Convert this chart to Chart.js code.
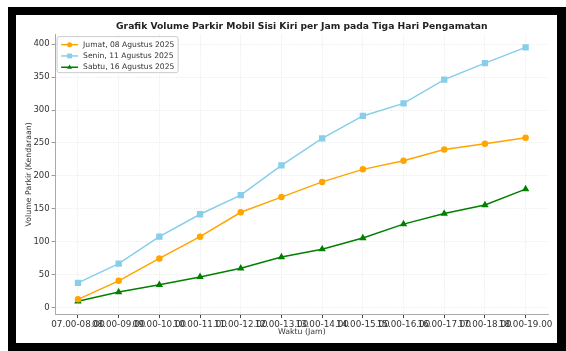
<!DOCTYPE html>
<html>
<head>
<meta charset="utf-8">
<script src="https://cdn.jsdelivr.net/npm/chart.js@4.4.1/dist/chart.umd.min.js"></script>
<style>
  html, body { margin: 0; padding: 0; background: #ffffff; }
  #frame {
    position: absolute; left: 8px; top: 7px; width: 558px; height: 344px;
    box-sizing: border-box; border-style: solid; border-color: #000;
    border-width: 8px 9px 8px 8px; background: #ffffff;
  }
  #chart { position: absolute; left: 0; top: 0; }
</style>
</head>
<body>
<div id="frame"></div>
<canvas id="chart" width="566" height="351"></canvas>
<script>
// Hourly parking volume, left side of the road, three observation days
const timeSlots = ['07.00-08.00', '08.00-09.00', '09.00-10.00', '10.00-11.00', '11.00-12.00', '12.00-13.00',
                   '13.00-14.00', '14.00-15.00', '15.00-16.00', '16.00-17.00', '17.00-18.00', '18.00-19.00'];
const jumat = [13, 41, 75, 108, 145, 168, 191, 210, 223, 240, 249, 258];
const senin = [38, 67, 108, 142, 171, 216, 257, 291, 310, 346, 371, 395];
const sabtu = [10, 24, 35, 47, 60, 77, 89, 106, 127, 143, 156, 180];
const seriesLabels = ['Jumat, 08 Agustus 2025', 'Senin, 11 Agustus 2025', 'Sabtu, 16 Agustus 2025'];
const yTicks = [0, 50, 100, 150, 200, 250, 300, 350, 400];

const FONT = "'DejaVu Sans', sans-serif";
const toPoints = arr => arr.map((v, i) => ({ x: i, y: v }));

// legend box drawn inside the plot, upper-left corner
const innerLegend = {
  id: 'innerLegend',
  afterDatasetsDraw(chart) {
    const ctx = chart.ctx;
    const area = chart.chartArea;
    const x0 = area.left + 1.5, y0 = area.top + 2, w = 121, h = 36;
    ctx.save();
    ctx.beginPath();
    ctx.roundRect(x0, y0, w, h, 2);
    ctx.fillStyle = 'rgba(255,255,255,0.85)';
    ctx.fill();
    ctx.strokeStyle = '#cccccc';
    ctx.lineWidth = 1;
    ctx.stroke();
    chart.data.datasets.forEach((ds, i) => {
      const cy = y0 + 8 + i * 11.3;
      const lx1 = x0 + 4, lx2 = x0 + 21, mx = (lx1 + lx2) / 2;
      ctx.strokeStyle = ds.borderColor;
      ctx.lineWidth = ds.borderWidth;
      ctx.beginPath(); ctx.moveTo(lx1, cy); ctx.lineTo(lx2, cy); ctx.stroke();
      ctx.fillStyle = ds.backgroundColor;
      const r = ds.pointRadius;
      ctx.beginPath();
      if (ds.pointStyle === 'circle') {
        ctx.arc(mx, cy, r, 0, Math.PI * 2);
      } else if (ds.pointStyle === 'rect') {
        const s = r * Math.SQRT1_2;
        ctx.rect(mx - s, cy - s, 2 * s, 2 * s);
      } else {
        const a = r * 0.866;
        ctx.moveTo(mx, cy - r);
        ctx.lineTo(mx + a, cy + r / 2);
        ctx.lineTo(mx - a, cy + r / 2);
        ctx.closePath();
      }
      ctx.fill();
      ctx.fillStyle = '#333333';
      ctx.font = '7.6px ' + FONT;
      ctx.textBaseline = 'middle';
      ctx.textAlign = 'left';
      ctx.fillText(ds.label, x0 + 26, cy);
    });
    ctx.restore();
  }
};

new Chart(document.getElementById('chart'), {
  type: 'line',
  data: {
    datasets: [
      { label: seriesLabels[0], data: toPoints(jumat), borderColor: '#FFA500', backgroundColor: '#FFA500',
        borderWidth: 1.5, pointStyle: 'circle', pointRadius: 2.5 },
      { label: seriesLabels[1], data: toPoints(senin), borderColor: '#87CEEB', backgroundColor: '#87CEEB',
        borderWidth: 1.5, pointStyle: 'rect', pointRadius: 3.4 },
      { label: seriesLabels[2], data: toPoints(sabtu), borderColor: '#008000', backgroundColor: '#008000',
        borderWidth: 1.5, pointStyle: 'triangle', pointRadius: 2.8 }
    ]
  },
  options: {
    responsive: false,
    animation: false,
    events: [],
    layout: { padding: { left: 0, right: 18, top: 0, bottom: 0 } },
    elements: { line: { tension: 0 }, point: { borderWidth: 0 } },
    plugins: {
      legend: { display: false },
      tooltip: { enabled: false },
      title: {
        display: true,
        fullSize: false,
        text: 'Grafik Volume Parkir Mobil Sisi Kiri per Jam pada Tiga Hari Pengamatan',
        color: '#222222',
        font: { family: FONT, size: 9.2, weight: 'bold' },
        padding: { top: 21.5, bottom: 2.1 }
      }
    },
    scales: {
      x: {
        type: 'linear',
        min: -0.55, max: 11.55,
        afterBuildTicks: s => { s.ticks = timeSlots.map((_, i) => ({ value: i })); },
        afterFit: s => { s.height = 37; },
        ticks: {
          autoSkip: false, maxRotation: 0, minRotation: 0,
          color: '#333333', font: { family: FONT, size: 8.8 }, padding: 1,
          callback: v => timeSlots[v]
        },
        grid: { color: '#e2e2e2', lineWidth: 0.8, tickLength: 4, tickColor: '#444444', tickWidth: 1 },
        border: { color: '#aaaaaa', width: 1, dash: [1, 1.5] },
        title: { display: true, text: 'Waktu (Jam)', color: '#333333',
                 font: { family: FONT, size: 7.8 }, padding: { top: 0, bottom: 14.8 } }
      },
      y: {
        min: -9.25, max: 414.25,
        afterBuildTicks: s => { s.ticks = yTicks.map(v => ({ value: v })); },
        afterFit: s => { s.width = 55.6; },
        ticks: { color: '#333333', font: { family: FONT, size: 8.5 }, padding: 2 },
        grid: { color: '#e2e2e2', lineWidth: 0.8, tickLength: 4, tickColor: '#999999', tickWidth: 1 },
        border: { color: '#aaaaaa', width: 1, dash: [1, 1.5] },
        title: { display: true, text: 'Volume Parkir (Kendaraan)', color: '#333333',
                 font: { family: FONT, size: 7.8 }, padding: { top: 23.8, bottom: 0 } }
      }
    }
  },
  plugins: [innerLegend]
});
</script>
</body>
</html>
